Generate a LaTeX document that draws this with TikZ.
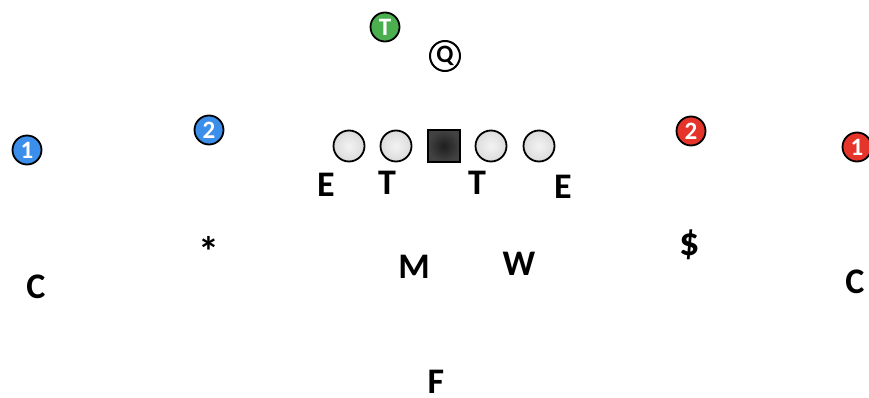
\documentclass[tikz,border=0pt]{standalone}
\usepackage{fontspec}
\setmainfont{Carlito}
\usetikzlibrary{shadings}
\definecolor{blueteam}{HTML}{3B8EEA}
\definecolor{redteam}{HTML}{E5352B}
\definecolor{greenteam}{HTML}{4BAE4F}
\tikzset{
  x=1pt, y=-1pt,
  badge/.style={circle, draw=black, line width=1.8pt, minimum size=29pt, inner sep=0pt,
    font=\fontsize{25}{25}\selectfont\bfseries, text=white},
  lineman/.style={circle, draw=black, line width=1.8pt, minimum size=31pt, inner sep=0pt,
    inner color=gray!10, outer color=gray!28},
  center/.style={rectangle, draw=black, line width=1.8pt, minimum size=32pt, inner sep=0pt,
    inner color=black!88, outer color=black!74},
  qb/.style={circle, draw=black, line width=2pt, minimum size=30pt, inner sep=0pt, fill=white,
    font=\fontsize{25}{25}\selectfont\bfseries},
  defender/.style={font=\fontsize{36}{36}\selectfont\bfseries, inner sep=0pt}
}
\begin{document}
\begin{tikzpicture}
\useasboundingbox (0,0) rectangle (869,398);
% backfield
\node[badge, fill=greenteam] (tb) at (385,27) {T};
\node[qb] (qb) at (445,56) {Q};
% offensive line
\node[lineman] (lt) at (349,146) {};
\node[lineman] (lg) at (396,146) {};
\node[center] (c) at (444,146) {};
\node[lineman] (rg) at (491,146) {};
\node[lineman] (rt) at (539,146) {};
% receivers
\node[badge, fill=blueteam] (x1) at (27,150) {1};
\node[badge, fill=blueteam] (x2) at (209,130) {2};
\node[badge, fill=redteam] (z2) at (691,131) {2};
\node[badge, fill=redteam] (z1) at (857,147) {1};
% defensive front
\node[defender] (de1) at (326,185) {E};
\node[defender] (dt1) at (387,183) {T};
\node[defender] (dt2) at (477,183) {T};
\node[defender] (de2) at (563,187) {E};
% linebackers and nickel
\node[defender, font=\fontsize{42}{42}\selectfont\bfseries] (star) at (209,251) {*};
\node[defender, font=\fontsize{40}{40}\selectfont\bfseries] (money) at (690,245) {\$};
\node[defender] (mike) at (414,267) {M};
\node[defender] (will) at (519,264) {W};
% secondary
\node[defender] (cb1) at (36,287) {C};
\node[defender] (cb2) at (855,282) {C};
\node[defender] (fs) at (436,382) {F};
\end{tikzpicture}
\end{document}
